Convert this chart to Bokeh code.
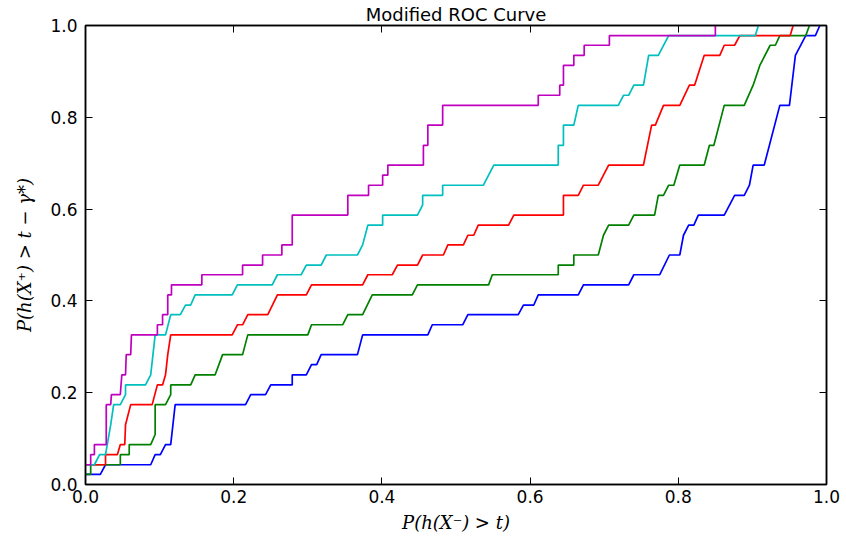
from bokeh.plotting import figure
from bokeh.models import LinearAxis, FixedTicker, PrintfTickFormatter, Range1d
from bokeh.embed import file_html
from bokeh.resources import INLINE

# ---- data ----
blue_x = [0.000, 0.020, 0.027, 0.088, 0.094, 0.101, 0.108, 0.115, 0.121, 0.216, 0.223, 0.243, 0.250,
          0.279, 0.279, 0.298, 0.305, 0.312, 0.318, 0.367, 0.374, 0.462, 0.468, 0.509, 0.516, 0.584,
          0.591, 0.605, 0.611, 0.665, 0.672, 0.733, 0.740, 0.775, 0.788, 0.802, 0.807, 0.814, 0.821,
          0.827, 0.862, 0.876, 0.889, 0.896, 0.901, 0.916, 0.937, 0.950, 0.958, 0.972, 0.985, 0.991]
blue_y = [0.022, 0.022, 0.043, 0.043, 0.065, 0.065, 0.087, 0.087, 0.174, 0.174, 0.196, 0.196, 0.217,
          0.217, 0.239, 0.239, 0.261, 0.261, 0.283, 0.283, 0.326, 0.326, 0.348, 0.348, 0.370, 0.370,
          0.391, 0.391, 0.413, 0.413, 0.435, 0.435, 0.457, 0.457, 0.500, 0.500, 0.543, 0.565, 0.565,
          0.587, 0.587, 0.630, 0.630, 0.652, 0.696, 0.696, 0.826, 0.826, 0.935, 0.978, 0.978, 1.000]

green_x = [0.000, 0.007, 0.007, 0.047, 0.047, 0.059, 0.059, 0.088, 0.094, 0.094, 0.108, 0.115, 0.115,
           0.142, 0.148, 0.175, 0.185, 0.212, 0.219, 0.300, 0.305, 0.347, 0.354, 0.374, 0.387, 0.441,
           0.448, 0.544, 0.549, 0.638, 0.638, 0.659, 0.659, 0.692, 0.699, 0.706, 0.733, 0.740, 0.768,
           0.773, 0.780, 0.787, 0.794, 0.802, 0.835, 0.842, 0.848, 0.862, 0.889, 0.901, 0.910, 0.924,
           0.931, 0.937, 0.972, 0.977]
green_y = [0.022, 0.022, 0.043, 0.043, 0.065, 0.065, 0.087, 0.087, 0.109, 0.174, 0.174, 0.196, 0.217,
           0.217, 0.239, 0.239, 0.283, 0.283, 0.326, 0.326, 0.348, 0.348, 0.370, 0.370, 0.413, 0.413,
           0.435, 0.435, 0.457, 0.457, 0.478, 0.478, 0.500, 0.500, 0.543, 0.565, 0.565, 0.587, 0.587,
           0.630, 0.630, 0.652, 0.652, 0.696, 0.696, 0.739, 0.739, 0.826, 0.826, 0.870, 0.913, 0.957,
           0.957, 0.978, 0.978, 1.000]

red_x = [0.000, 0.027, 0.027, 0.043, 0.047, 0.053, 0.054, 0.061, 0.090, 0.097, 0.104, 0.108, 0.111,
         0.115, 0.198, 0.205, 0.212, 0.219, 0.246, 0.259, 0.298, 0.305, 0.374, 0.381, 0.414, 0.421,
         0.448, 0.455, 0.483, 0.489, 0.510, 0.516, 0.524, 0.530, 0.571, 0.578, 0.645, 0.645, 0.665,
         0.672, 0.692, 0.706, 0.753, 0.764, 0.769, 0.780, 0.802, 0.815, 0.822, 0.835, 0.856, 0.862,
         0.876, 0.883, 0.951, 0.955]
red_y = [0.043, 0.043, 0.065, 0.065, 0.087, 0.087, 0.130, 0.174, 0.174, 0.217, 0.217, 0.239, 0.283,
         0.326, 0.326, 0.348, 0.348, 0.370, 0.370, 0.413, 0.413, 0.435, 0.435, 0.457, 0.457, 0.478,
         0.478, 0.500, 0.500, 0.522, 0.522, 0.543, 0.543, 0.565, 0.565, 0.587, 0.587, 0.630, 0.630,
         0.652, 0.652, 0.696, 0.696, 0.783, 0.783, 0.826, 0.826, 0.870, 0.870, 0.935, 0.935, 0.957,
         0.957, 0.978, 0.978, 1.000]

cyan_x = [0.000, 0.012, 0.019, 0.027, 0.034, 0.038, 0.047, 0.054, 0.054, 0.081, 0.088, 0.094, 0.108,
          0.115, 0.128, 0.135, 0.142, 0.148, 0.198, 0.205, 0.252, 0.259, 0.291, 0.298, 0.318, 0.325,
          0.367, 0.374, 0.381, 0.401, 0.401, 0.448, 0.455, 0.455, 0.482, 0.482, 0.537, 0.551, 0.638,
          0.638, 0.645, 0.645, 0.659, 0.665, 0.719, 0.726, 0.733, 0.740, 0.753, 0.760, 0.773, 0.787,
          0.904, 0.908]
cyan_y = [0.043, 0.043, 0.065, 0.065, 0.130, 0.174, 0.174, 0.196, 0.217, 0.217, 0.239, 0.326, 0.326,
          0.370, 0.370, 0.391, 0.391, 0.413, 0.413, 0.435, 0.435, 0.457, 0.457, 0.478, 0.478, 0.500,
          0.500, 0.522, 0.565, 0.565, 0.587, 0.587, 0.609, 0.630, 0.630, 0.652, 0.652, 0.696, 0.696,
          0.739, 0.739, 0.783, 0.783, 0.826, 0.826, 0.848, 0.848, 0.870, 0.870, 0.935, 0.935, 0.978,
          0.978, 1.000]

magenta_x = [0.000, 0.007, 0.007, 0.012, 0.012, 0.028, 0.028, 0.034, 0.035, 0.047, 0.049, 0.054, 0.055,
             0.061, 0.062, 0.097, 0.097, 0.104, 0.104, 0.111, 0.111, 0.116, 0.116, 0.157, 0.157, 0.212,
             0.212, 0.239, 0.239, 0.265, 0.265, 0.279, 0.279, 0.354, 0.354, 0.382, 0.382, 0.401, 0.401,
             0.408, 0.408, 0.456, 0.456, 0.462, 0.462, 0.482, 0.482, 0.611, 0.611, 0.640, 0.640, 0.645,
             0.645, 0.659, 0.659, 0.673, 0.673, 0.707, 0.707, 0.850, 0.850]
magenta_y = [0.043, 0.043, 0.065, 0.065, 0.087, 0.087, 0.174, 0.174, 0.196, 0.196, 0.239, 0.239, 0.283,
             0.283, 0.326, 0.326, 0.348, 0.348, 0.370, 0.370, 0.413, 0.413, 0.435, 0.435, 0.457, 0.457,
             0.478, 0.478, 0.500, 0.500, 0.522, 0.522, 0.587, 0.587, 0.630, 0.630, 0.652, 0.652, 0.674,
             0.674, 0.696, 0.696, 0.739, 0.739, 0.783, 0.783, 0.826, 0.826, 0.848, 0.848, 0.870, 0.870,
             0.913, 0.913, 0.935, 0.935, 0.957, 0.957, 0.978, 0.978, 1.000]

tick_values = [0.0, 0.2, 0.4, 0.6, 0.8, 1.0]

series = [
    (blue_x, blue_y, "#0000ff"),
    (green_x, green_y, "#008000"),
    (red_x, red_y, "#ff0000"),
    (cyan_x, cyan_y, "#00bfbf"),
    (magenta_x, magenta_y, "#bf00bf"),
]

p = figure(width=846, height=544, output_backend="svg", toolbar_location=None,
           x_range=Range1d(0, 1), y_range=Range1d(0, 1),
           min_border_left=85, min_border_right=20, min_border_top=24, min_border_bottom=60,
           title="Modified ROC Curve")
p.title.align = "center"
p.title.text_font = "DejaVu Sans"
p.title.text_font_size = "18px"
p.title.text_font_style = "normal"
p.title.text_color = "black"
p.title.standoff = 2
p.title.offset = 0

for xs, ys, c in series:
    p.line(xs, ys, line_color=c, line_width=1.7)

p.xgrid.visible = False
p.ygrid.visible = False
p.outline_line_color = "black"
p.outline_line_width = 1.5
p.background_fill_color = "white"
p.border_fill_color = "white"

ticker = FixedTicker(ticks=tick_values)
fmt = PrintfTickFormatter(format="%.1f")

def style_axis(ax, labels=True):
    ax.ticker = ticker
    ax.formatter = fmt
    ax.axis_line_color = "black"
    ax.axis_line_width = 1.5
    ax.major_tick_in = 7
    ax.major_tick_out = 0
    ax.major_tick_line_color = "black"
    ax.major_tick_line_width = 1
    ax.minor_tick_line_color = None
    ax.major_label_text_font = "DejaVu Sans"
    ax.major_label_text_font_size = "17px"
    ax.major_label_text_color = "black"
    if not labels:
        ax.major_label_text_font_size = "1px"
        ax.major_label_text_color = None
        ax.major_label_standoff = 0

xa = p.xaxis[0]
ya = p.yaxis[0]
style_axis(xa)
style_axis(ya)
xa.major_label_standoff = 5
ya.major_label_standoff = 8
xa.axis_label = "P(h(X\u207b) > t)"
ya.axis_label = "P(h(X\u207a) > t \u2212 \u03b3*)"
for ax in (xa, ya):
    ax.axis_label_text_font = "DejaVu Serif"
    ax.axis_label_text_font_style = "italic"
    ax.axis_label_text_font_size = "18px"
    ax.axis_label_text_color = "black"
xa.axis_label_standoff = 6
ya.axis_label_standoff = 12

top = LinearAxis()
style_axis(top, labels=False)
p.add_layout(top, "above")
right = LinearAxis()
style_axis(right, labels=False)
p.add_layout(right, "right")

open("out.html", "w").write(file_html(p, INLINE))
